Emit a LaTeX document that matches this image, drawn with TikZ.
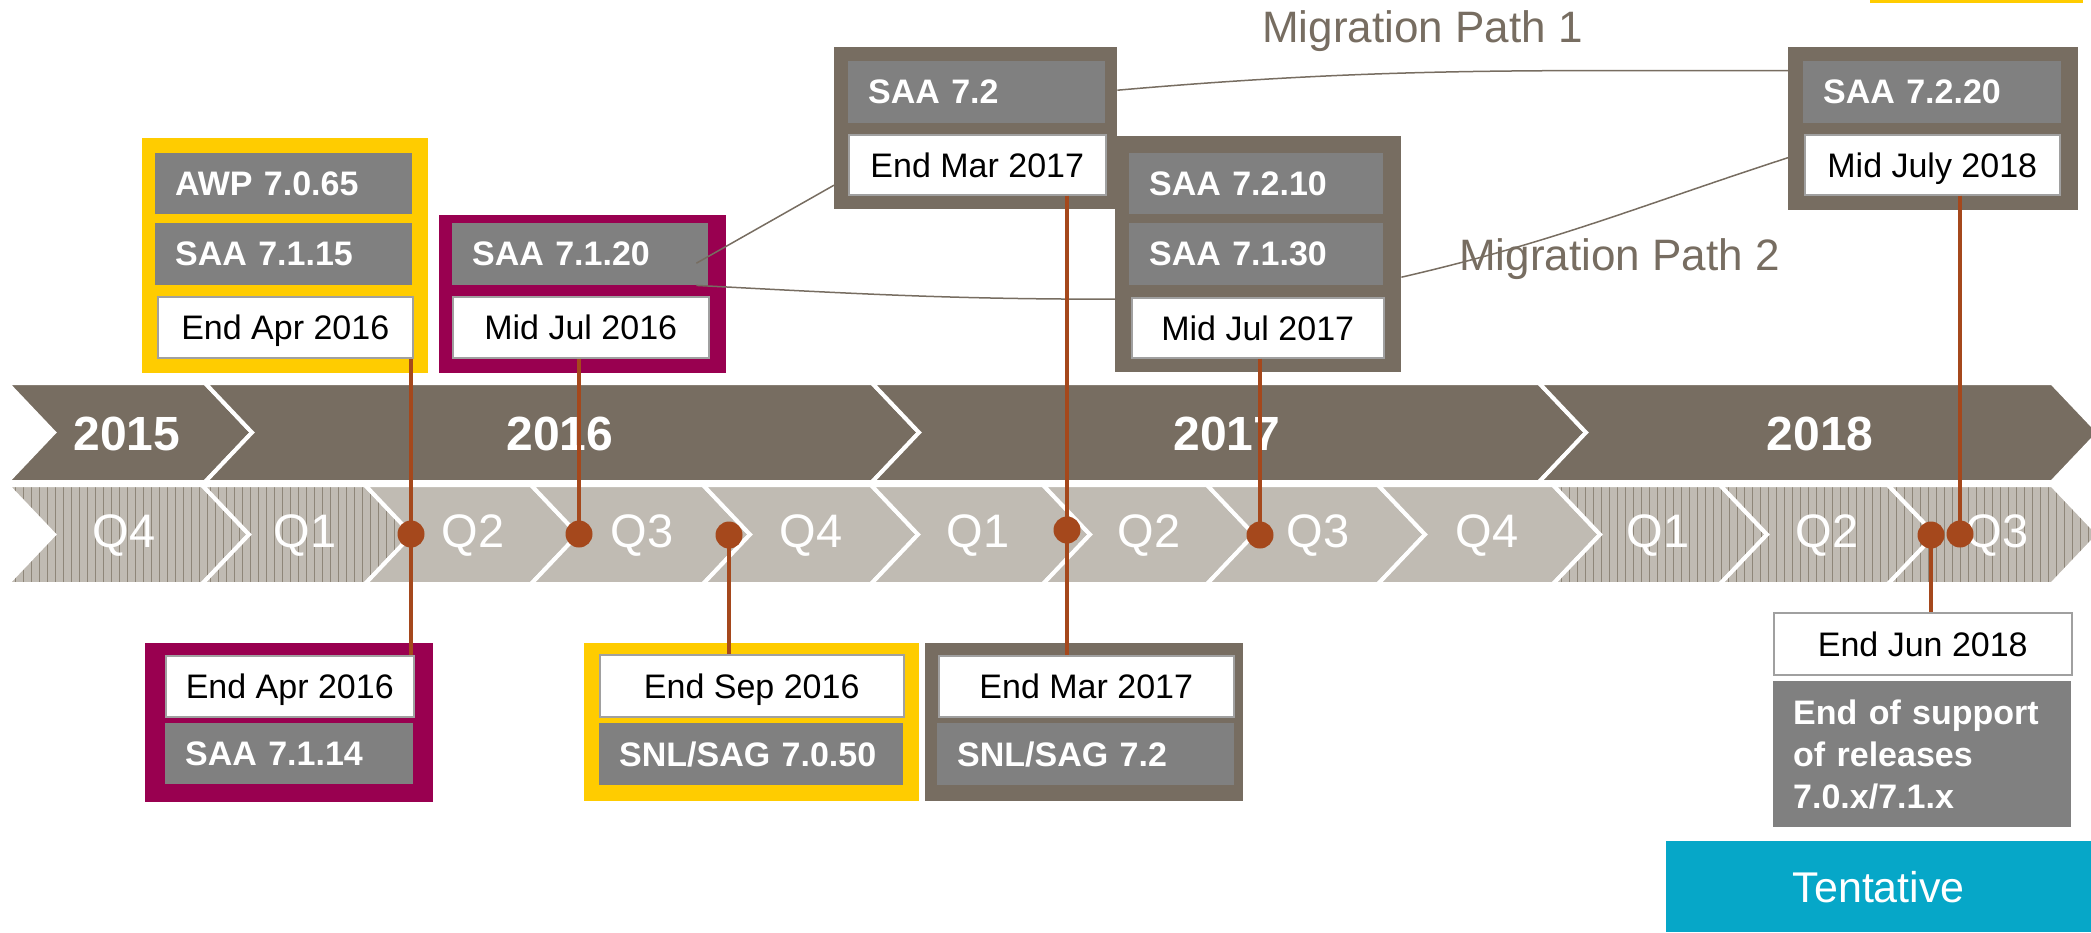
\documentclass[tikz,border=0pt]{standalone}
\usepackage{fontspec}
\setmainfont{Liberation Sans}

\begin{document}
\begin{tikzpicture}[x=1pt, y=-1pt,
		chevcut/.style={draw=white, line width=4pt, line join=miter},
		ribs/.code={\ifnum#1=1\relax\pgfkeysalso{path picture={
						\foreach \x in {0,8,...,288}
						\draw[stripe1, line width=0.7pt] ([xshift=\x pt]path picture bounding box.north west) -- ([xshift=\x pt]path picture bounding box.south west);
					}}\fi},
		casing/.style={fill=#1, anchor=north west, inner sep=0pt},
		relbox/.style={fill=gray1, text=white, anchor=north west, inner xsep=20pt, inner ysep=0pt, minimum height=61pt, align=left, text width=#1, font=\bfseries\fontsize{34pt}{42pt}\selectfont},
		datebox/.style={fill=white, draw=edge1, line width=1.5pt, anchor=north west, inner sep=0pt, minimum height=61pt, minimum width=#1, text depth=0pt, font=\fontsize{34pt}{40pt}\selectfont},
		milestone/.style={circle, fill=rust1, minimum size=27pt, inner sep=0pt},
		tie/.style={draw=rust1, line width=4pt},
		migpath/.style={draw=taupe1, line width=1.5pt},
		miglabel/.style={anchor=base west, text=taupe1, inner sep=0pt, font=\fontsize{44pt}{44pt}\selectfont}
	]
		\definecolor{taupe1}{HTML}{776D61}
		\definecolor{sand1}{HTML}{C0BBB3}
		\definecolor{stripe1}{HTML}{8E8679}
		\definecolor{amber1}{HTML}{FFCC00}
		\definecolor{plum1}{HTML}{990050}
		\definecolor{gray1}{HTML}{808080}
		\definecolor{edge1}{HTML}{A0A0A0}
		\definecolor{rust1}{HTML}{A5481C}
		\definecolor{cyan1}{HTML}{06A7C8}
		\useasboundingbox (0,0) rectangle (2091,932);
		\fill[amber1] (1870,0) rectangle (2083,2.5);

		\foreach \l/\r/\lx/\yr in {54/252/127/2015, 252/919/560/2016, 919/1586/1227/2017, 1586/2099/1820/2018}{
				\filldraw[chevcut, fill=taupe1] (\l-47,383) -- (\r-47,383) -- (\r,432.5) -- (\r-47,482) -- (\l-47,482) -- (\l,432.5) -- cycle;
				\node[text=white, font=\bfseries\fontsize{48pt}{48pt}\selectfont] (y\yr) at (\lx,434) {\yr};
			}
		\foreach \l/\r/\lx/\q/\s [count=\i] in {54/249/124/Q4/1, 249/412/305/Q1/1, 412/578/473/Q2/0, 578/750/642/Q3/0, 750/918/811/Q4/0, 918/1090/978/Q1/0, 1090/1254/1149/Q2/0, 1254/1425/1318/Q3/0, 1425/1600/1487/Q4/0, 1600/1767/1658/Q1/1, 1767/1935/1827/Q2/1, 1935/2099/1997/Q3/1}{
				\filldraw[chevcut, fill=sand1, ribs=\s] (\l-47,485) -- (\r-47,485) -- (\r,534.5) -- (\r-47,584) -- (\l-47,584) -- (\l,534.5) -- cycle;
				\node[text=white, font=\fontsize{47pt}{47pt}\selectfont] (q\i) at (\lx,536) {\q};
			}

		\node[casing=amber1, minimum width=286pt, minimum height=235pt] (aFrame) at (142,138) {};
		\node[relbox=217pt] (aAwp) at (155,153) {AWP 7.0.65};
		\node[relbox=217pt, minimum height=62pt] (aSaa) at (155,223) {SAA 7.1.15};
		\node[datebox=255pt] (aDate) at (157,296) {End Apr 2016};

		\node[casing=plum1, minimum width=287pt, minimum height=158pt] (bFrame) at (439,215) {};
		\node[relbox=216pt, minimum height=62pt] (bSaa) at (452,223) {SAA 7.1.20};
		\node[datebox=256pt] (bDate) at (452,296) {Mid Jul 2016};

		\node[casing=taupe1, minimum width=283pt, minimum height=162pt] (cFrame) at (834,47) {};
		\node[relbox=217pt, minimum height=62pt] (cSaa) at (848,61) {SAA 7.2};
		\node[datebox=257pt, minimum height=60pt] (cDate) at (848,134) {End Mar 2017};

		\node[casing=taupe1, minimum width=286pt, minimum height=236pt] (dFrame) at (1115,136) {};
		\node[relbox=214pt] (dSaa) at (1129,153) {SAA 7.2.10};
		\node[relbox=214pt, minimum height=62pt] (dSaaOld) at (1129,223) {SAA 7.1.30};
		\node[datebox=252pt, minimum height=60pt] (dDate) at (1131,297) {Mid Jul 2017};

		\node[casing=taupe1, minimum width=290pt, minimum height=163pt] (eFrame) at (1788,47) {};
		\node[relbox=218pt, minimum height=62pt] (eSaa) at (1803,61) {SAA 7.2.20};
		\node[datebox=255pt, minimum height=60pt] (eDate) at (1804,134) {Mid July 2018};

		\node[casing=plum1, minimum width=288pt, minimum height=159pt] (fFrame) at (145,643) {};
		\node[datebox=248pt] (fDate) at (165,655) {End Apr 2016};
		\node[relbox=208pt] (fSaa) at (165,723) {SAA 7.1.14};

		\node[casing=amber1, minimum width=335pt, minimum height=158pt] (gFrame) at (584,643) {};
		\node[datebox=304pt, minimum height=62pt] (gDate) at (599,654) {End Sep 2016};
		\node[relbox=264pt, minimum height=62pt] (gSnl) at (599,723) {SNL/SAG 7.0.50};

		\node[casing=taupe1, minimum width=318pt, minimum height=158pt] (hFrame) at (925,643) {};
		\node[datebox=295pt] (hDate) at (938,655) {End Mar 2017};
		\node[relbox=257pt, minimum height=62pt] (hSnl) at (937,723) {SNL/SAG 7.2};

		\node[datebox=298pt, minimum height=62pt] (iDate) at (1773,612) {End Jun 2018};
		\node[relbox=258pt, minimum height=146pt] (iEos) at (1773,681) {End of support\\of releases\\7.0.x/7.1.x};

		\node[casing=cyan1, minimum width=425pt, minimum height=91pt, text=white, font=\fontsize{43pt}{43pt}\selectfont] (tent) at (1666,841) {Tentative};

		\draw[migpath] ([xshift=-12pt, yshift=-9pt]bSaa.east) -- ([yshift=-57pt]cFrame.west);
		\draw[migpath] ([yshift=38pt]cFrame.east) to[out=5, in=180] ([yshift=58pt]eFrame.west);
		\draw[migpath] ([xshift=-12pt]bSaa.south east) to[out=-3, in=180] ([yshift=-45pt]dFrame.west);
		\draw[migpath] ([yshift=-23pt]dFrame.east) to[out=13, in=198] ([yshift=-29pt]eFrame.west);
		\node[miglabel] (mig1) at (1262,42) {Migration Path 1};
		\node[miglabel] (mig2) at (1459,270) {Migration Path 2};

		\node[milestone] (d1) at (411,534) {};
		\node[milestone] (d2) at (579,534) {};
		\node[milestone] (d3) at (729,535) {};
		\node[milestone] (d4) at (1067,530) {};
		\node[milestone] (d5) at (1260,535) {};
		\node[milestone] (d6) at (1960,534) {};
		\node[milestone] (d7) at (1931,535) {};
		\draw[tie] (aDate.south -| d1) -- (fDate.north -| d1);
		\draw[tie] (bDate.south -| d2) -- (d2.center);
		\draw[tie] (d3.center) -- (gDate.north -| d3);
		\draw[tie] (cDate.south -| d4) -- (hDate.north -| d4);
		\draw[tie] (dDate.south -| d5) -- (d5.center);
		\draw[tie] (eDate.south -| d6) -- (d6.center);
		\draw[tie] (d7.center) -- (iDate.north -| d7);
	\end{tikzpicture}
\end{document}
